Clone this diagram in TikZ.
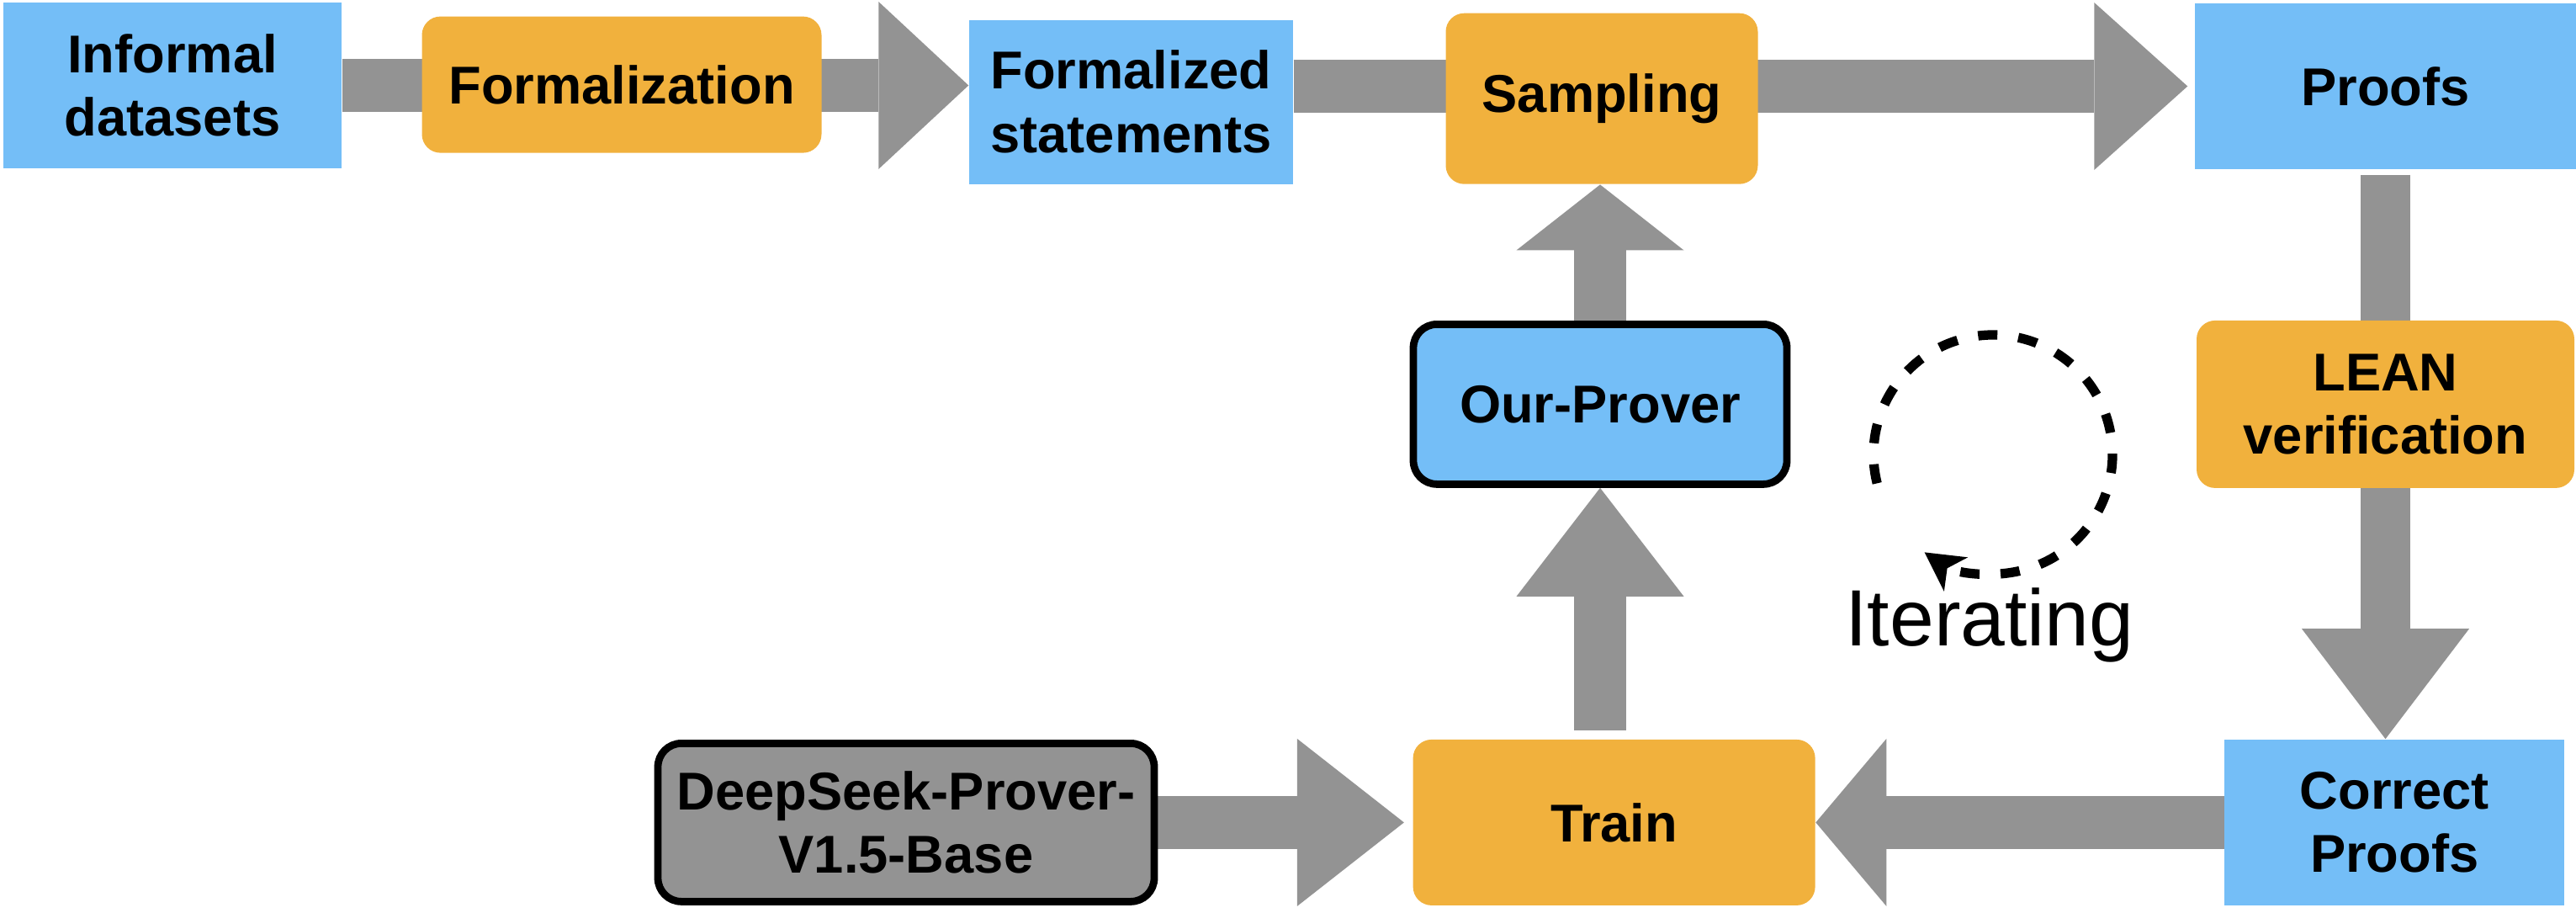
\documentclass[tikz,border=0pt]{standalone}
\usepackage{fontspec}
\setmainfont{Liberation Sans}
\usetikzlibrary{arrows.meta,backgrounds}
\definecolor{dataBlue}{RGB}{116,190,247}
\definecolor{stageOrange}{RGB}{241,177,61}
\definecolor{flowGray}{RGB}{147,147,147}
\tikzset{
  box/.style={inner sep=0pt, align=center, font=\fontsize{18}{21.5}\selectfont\bfseries, minimum height=1.97cm},
  databox/.style={box, fill=dataBlue},
  stagebox/.style={box, fill=stageOrange, rounded corners=0.22cm},
  modelbox/.style={box, draw=black, line width=2.5pt, rounded corners=0.28cm},
  flowarrow/.style={draw=flowGray, line width=0.625cm, -{Triangle[width=1.99cm,length=#1,line width=0pt]}},
}

\begin{document}
\begin{tikzpicture}
\useasboundingbox (0,0) rectangle (30.62,10.84);
\node[databox, minimum width=4.02cm] (inf) at (2.05,9.825) {Informal\\datasets};
\node[stagebox, minimum width=4.75cm, minimum height=1.62cm] (formz) at (7.39,9.834) {Formalization};
\node[databox, minimum width=3.85cm, minimum height=1.95cm] (fstat) at (13.445,9.629) {Formalized\\statements};
\node[stagebox, minimum width=3.71cm, minimum height=2.03cm] (samp) at (19.04,9.668) {Sampling};
\node[databox, minimum width=4.53cm] (proofs) at (28.355,9.815) {Proofs};
\node[stagebox, minimum width=4.49cm, minimum height=1.99cm] (lean) at (28.355,6.036) {LEAN\\verification};
\node[databox, minimum width=4.04cm] (correct) at (28.462,1.066) {Correct\\Proofs};
\node[stagebox, minimum width=4.78cm] (train) at (19.186,1.066) {Train};
\node[modelbox, fill=flowGray, minimum width=5.9cm, minimum height=1.88cm] (base) at (10.77,1.066) {DeepSeek-Prover-\\V1.5-Base};
\node[modelbox, fill=dataBlue, minimum width=4.44cm, minimum height=1.9cm] (prover) at (19.02,6.036) {Our-Prover};
\begin{scope}[on background layer]
\draw[flowarrow=1.07cm] (inf.east) -- (inf.east -| fstat.west);
\draw[flowarrow=1.11cm] (fstat.east |- proofs.west) -- ([xshift=-0.08cm]proofs.west);
\draw[flowarrow=1.31cm, line width=0.59cm] ([yshift=-0.06cm]proofs.south) -- (proofs.south |- correct.north);
\draw[flowarrow=0.84cm] (correct.west) -- (train.east);
\draw[flowarrow=1.27cm] (base.east) -- ([xshift=-0.1cm]train.west);
\draw[flowarrow=1.29cm] ([yshift=0.1cm]prover.south |- train.north) -- (prover.south);
\draw[flowarrow=0.78cm] (prover.north) -- (prover.north |- samp.south);
\end{scope}
\coordinate (loop) at (23.69,5.44);
\draw[line width=3.2pt, dash pattern=on 0.23cm off 0.25cm, -{Stealth[length=0.45cm,width=0.48cm,inset=0.12cm]}] (loop) ++(194:1.42) arc (194:-125:1.42);
\node[font=\fontsize{27}{32}\selectfont, anchor=base] (iter) at (23.65,3.17) {Iterating};
\end{tikzpicture}
\end{document}
